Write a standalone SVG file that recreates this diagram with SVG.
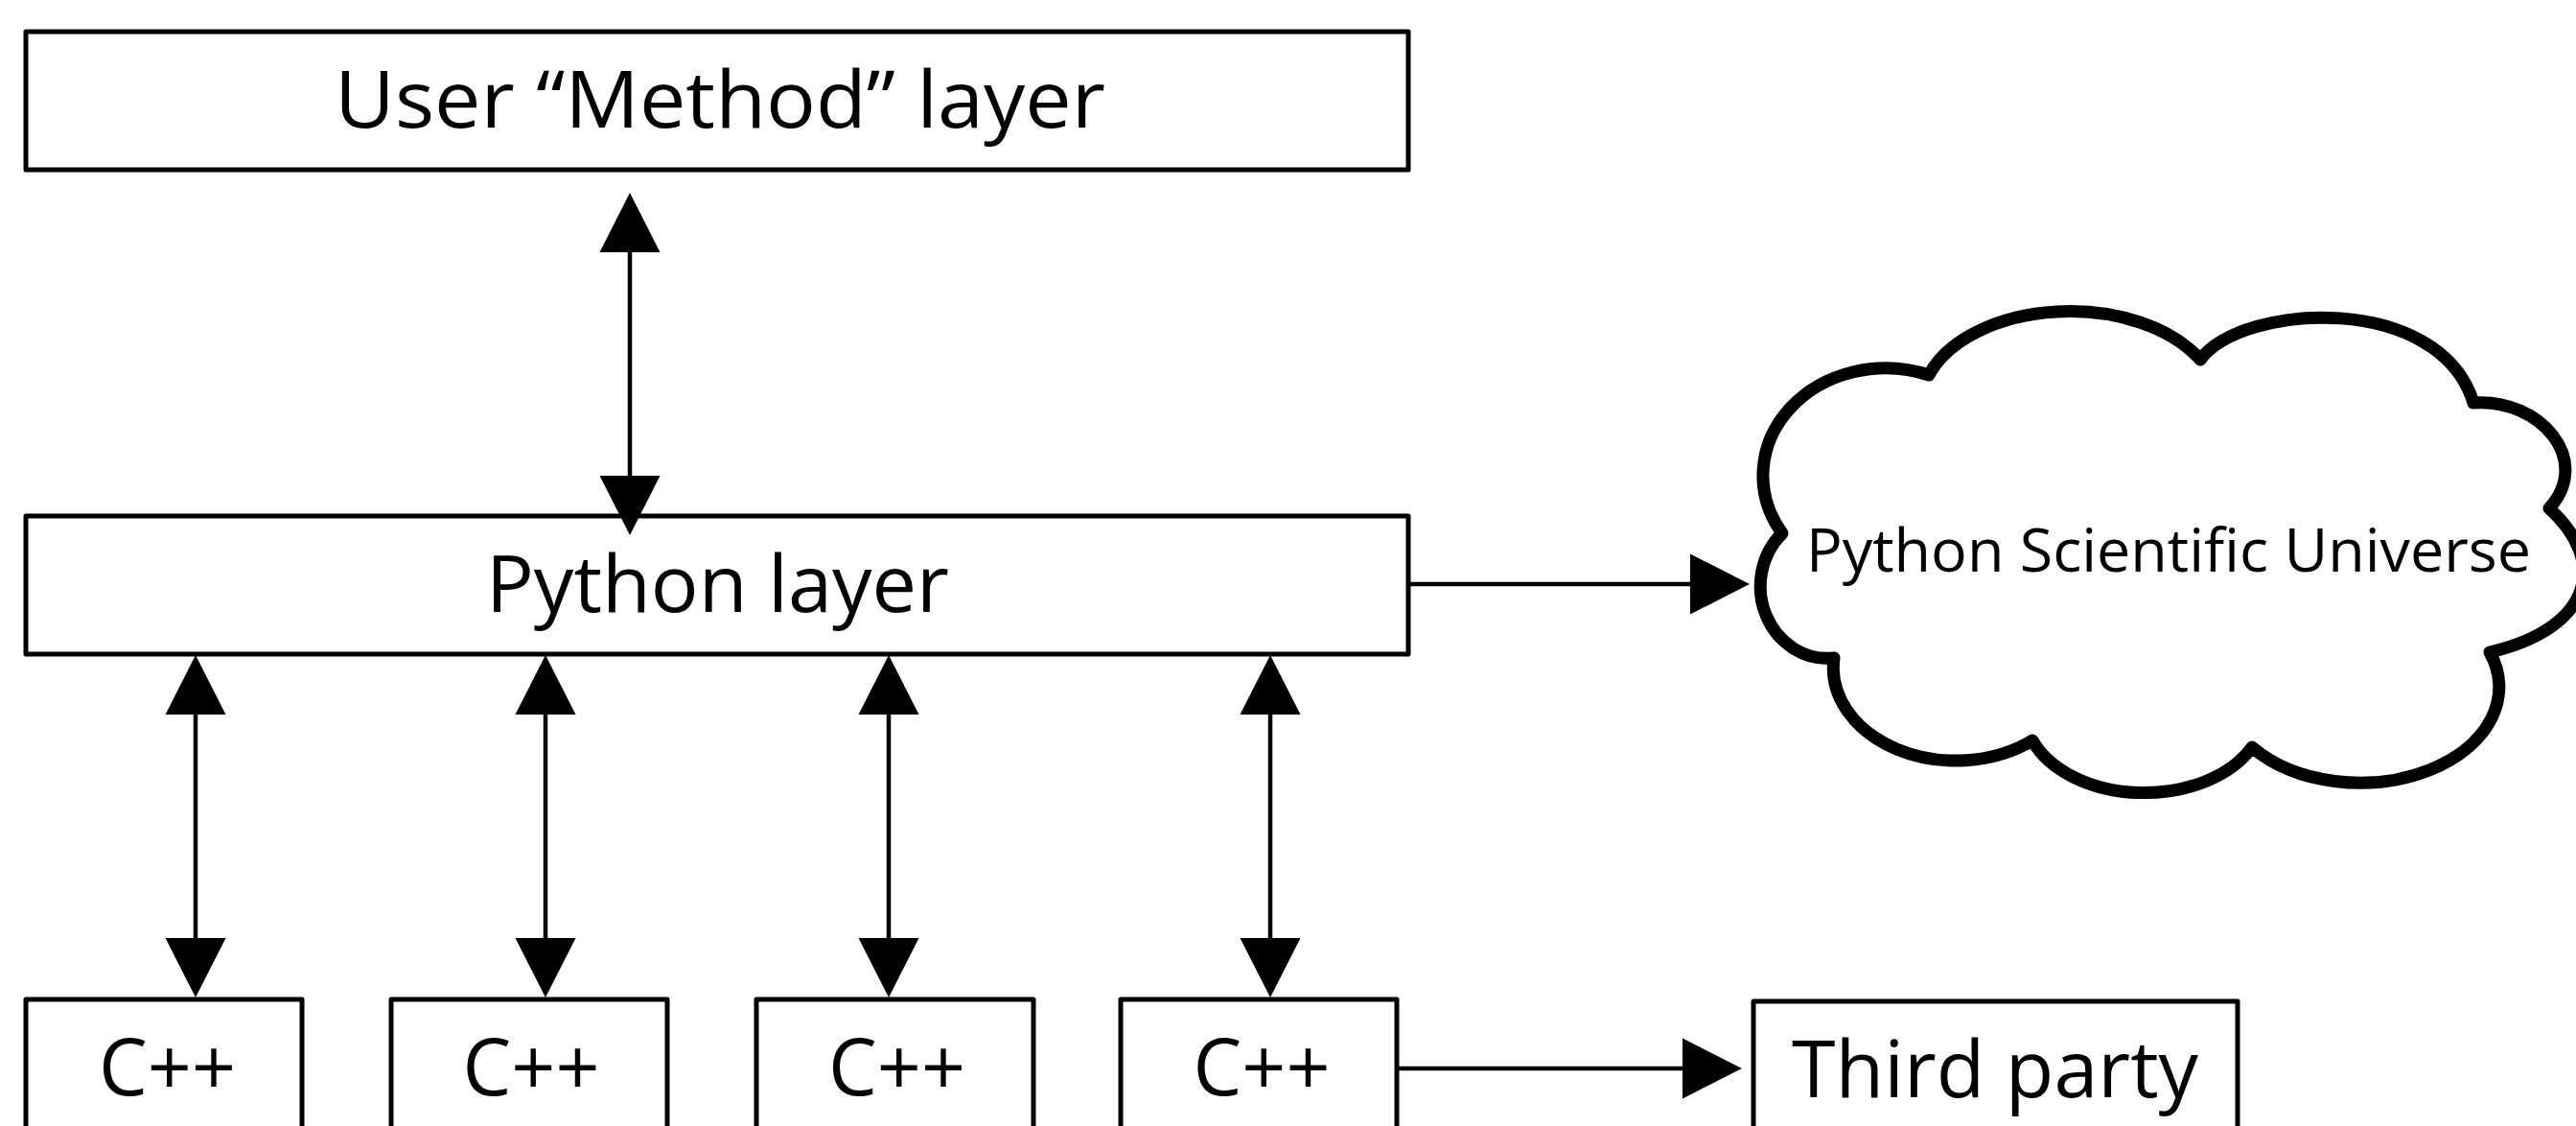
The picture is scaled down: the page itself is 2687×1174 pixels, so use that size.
<svg xmlns="http://www.w3.org/2000/svg" width="2687" height="1174" viewBox="0 0 2687 1174">
  <style>
    .box { fill: #ffffff; stroke: #000000; stroke-width: 5; stroke-linejoin: round; }
    .lbl { font-family: "Open Sans", "Liberation Sans", sans-serif; font-size: 83px; fill: #000000; text-anchor: middle; }
    .lbl-sm { font-family: "Open Sans", "Liberation Sans", sans-serif; font-size: 63px; fill: #000000; text-anchor: middle; }
    .conn { fill: none; stroke: #000000; stroke-width: 4.5; }
    .cloud { fill: #ffffff; stroke: #000000; stroke-width: 13; stroke-linejoin: round; }
  </style>
  <defs>
    <marker id="head" markerUnits="userSpaceOnUse" viewBox="0 -33 64 66" markerWidth="64" markerHeight="66" refX="0" refY="0" orient="auto-start-reverse" overflow="visible">
      <path d="M0,-31.5 L62,0 L0,31.5 Z" fill="#000000"/>
    </marker>
  </defs>
  <rect x="0" y="0" width="2687" height="1174" fill="#ffffff"/>

  <g id="user-method-layer">
    <rect class="box" x="27" y="33" width="1442" height="144"/>
    <text class="lbl" x="751" y="133" textLength="804" lengthAdjust="spacingAndGlyphs">User “Method” layer</text>
  </g>

  <g id="python-layer">
    <rect class="box" x="27" y="538" width="1442" height="144"/>
    <text class="lbl" x="748.5" y="638" textLength="483" lengthAdjust="spacingAndGlyphs">Python layer</text>
  </g>

  <g id="cpp-1">
    <rect class="box" x="27" y="1042" width="288" height="160"/>
    <text class="lbl" x="174.5" y="1142" textLength="143" lengthAdjust="spacingAndGlyphs">C++</text>
  </g>
  <g id="cpp-2">
    <rect class="box" x="408" y="1042" width="288" height="160"/>
    <text class="lbl" x="554" y="1142" textLength="143" lengthAdjust="spacingAndGlyphs">C++</text>
  </g>
  <g id="cpp-3">
    <rect class="box" x="789" y="1042" width="289" height="160"/>
    <text class="lbl" x="935.5" y="1142" textLength="143" lengthAdjust="spacingAndGlyphs">C++</text>
  </g>
  <g id="cpp-4">
    <rect class="box" x="1169" y="1042" width="288" height="160"/>
    <text class="lbl" x="1316" y="1142" textLength="143" lengthAdjust="spacingAndGlyphs">C++</text>
  </g>

  <g id="third-party">
    <rect class="box" x="1829" y="1044" width="505" height="160"/>
    <text class="lbl" x="2081" y="1144" textLength="424" lengthAdjust="spacingAndGlyphs">Third party</text>
  </g>

  <g id="connectors">
    <line class="conn" x1="657" y1="263" x2="657" y2="496" marker-start="url(#head)" marker-end="url(#head)"/>
    <line class="conn" x1="204" y1="745" x2="204" y2="978" marker-start="url(#head)" marker-end="url(#head)"/>
    <line class="conn" x1="569" y1="745" x2="569" y2="978" marker-start="url(#head)" marker-end="url(#head)"/>
    <line class="conn" x1="927" y1="745" x2="927" y2="978" marker-start="url(#head)" marker-end="url(#head)"/>
    <line class="conn" x1="1325" y1="745" x2="1325" y2="978" marker-start="url(#head)" marker-end="url(#head)"/>
    <line class="conn" x1="1469" y1="609" x2="1763" y2="609" marker-end="url(#head)"/>
    <line class="conn" x1="1457" y1="1114" x2="1755" y2="1114" marker-end="url(#head)"/>
  </g>

  <g id="python-scientific-universe">
    <path class="cloud" d="M1859,556
      A128,112 0 0 1 2012,391
      A155,97 0 0 1 2295,375
      C2340,315 2545,305 2580,420
      C2650,415 2705,480 2659,530
      C2719,584 2707,654 2597,680
      A145,100 0 0 1 2349,779
      A125,85 0 0 1 2120,772
      A128,97 0 0 1 1913,686
      A70,75 0 0 1 1859,556 Z"/>
    <text class="lbl-sm" x="2262" y="596" textLength="756" lengthAdjust="spacingAndGlyphs">Python Scientific Universe</text>
  </g>
</svg>
